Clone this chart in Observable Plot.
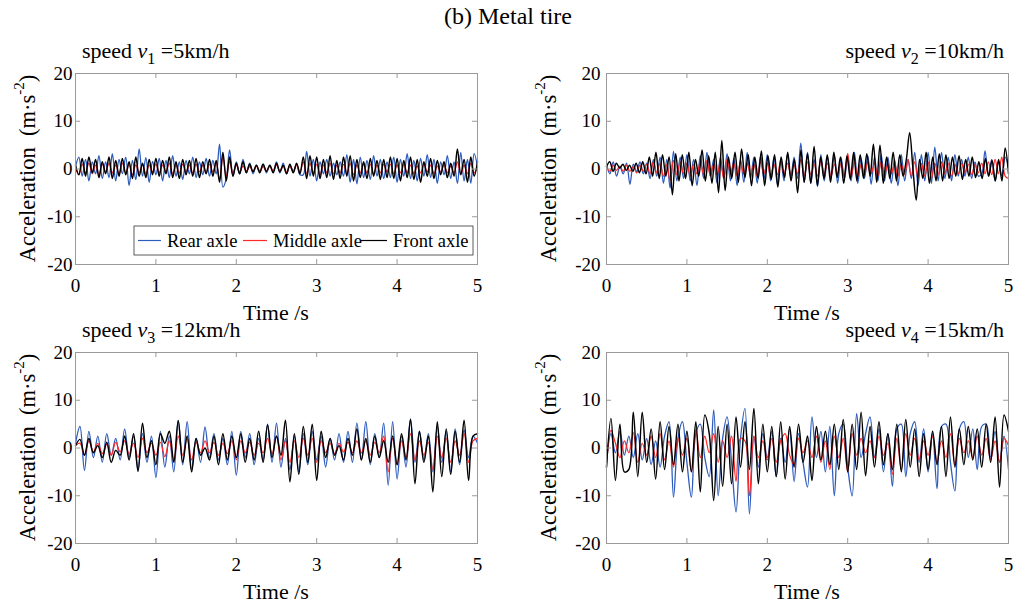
<!DOCTYPE html>
<html><head><meta charset="utf-8">
<script src="https://cdn.jsdelivr.net/npm/d3@7"></script>
<script src="https://cdn.jsdelivr.net/npm/@observablehq/plot@0.6"></script>
<style>
body{margin:0;background:#fff;}
#root{position:relative;width:1016px;height:608px;font-family:"Liberation Serif","Times New Roman",serif;color:#000;overflow:hidden;}
.abs{position:absolute;white-space:nowrap;}
.main-title{font-size:24px;left:0;width:1016px;text-align:center;top:3px;}
.sp{font-size:22px;line-height:24px;}
.sp sub{font-size:16px;vertical-align:-6px;line-height:0;}
</style></head><body><div id="root"></div>
<script>
// ---------- data ----------
const chartTitle = "(b) Metal tire";
const timeRange = [0, 5];
const xTicks = [0, 1, 2, 3, 4, 5];
const yTicks = [-20, -10, 0, 10, 20];
const seriesNames = ["Rear axle", "Middle axle", "Front axle"];
const seriesColors = ["#2d5cbc", "#ff2626", "#000000"];
const speedSubs = ["1", "2", "3", "4"];
const speedValues = ["5km/h", "10km/h", "12km/h", "15km/h"];

// speed v1 = 5 km/h
const v1Rear = [0.5,2.5,-1.5,2,-2.5,1.5,-1,2.8,-2,1.5,-1.8,3.2,-2.5,2,-1,2.5,-3.5,1.8,-2.2,4.2,-1.5,2.4,-2.8,1.6,
 -1.2,2.2,-2.5,1.8,-1.8,2.8,-1.5,1.5,-2.2,1.8,-1,2.5,-1.8,1.5,-1.2,2.2,-1.5,1.8,-1,5.2,-3.8,-2,4,-1.5,
 1.5,-1,2,-0.8,1.2,-1,0.8,-0.6,1,-0.8,0.8,-0.6,1.5,-0.8,1.2,-1,0.8,-0.5,1,-1.2,-1.2,3.7,-1.5,2,
 -2.5,1.5,-1,2,-1.5,1.2,-1.2,1.5,-1.5,3,-2.8,2,-3.1,2.5,-1.8,1.8,-2.2,2.8,-1.5,2,-2,1.5,-1.8,2.5,
 -2.8,2,-1.5,3.2,-2,1.8,-2.5,2.2,-1.5,3,-1.8,2,-3,1.5,-1.2,2.8,-2,1.5,-3,3.5,-2.5,2,-3,3.2,0.5];
const v1Middle = [0.2,-1.2,1,-0.8,1.2,-1,0.8,-1.2,1,-0.6,1.2,-0.8,0.8,-1,1.2,-0.8,1,-1.2,0.8,-0.8,1,-1,0.8,-0.6,
 1,-0.8,0.8,-0.6,1.2,-1,0.8,-0.8,1,-0.6,0.8,-0.8,1,-0.6,0.8,-0.8,1,-0.6,1.2,-2.2,2.5,-1.5,1.5,-0.8,
 0.8,-0.6,0.6,-0.4,0.5,-0.5,0.6,-0.4,0.5,-0.5,0.6,-0.4,0.8,-0.4,0.6,-0.6,0.5,-0.5,0.8,-0.6,1.5,-1,1.2,-0.8,
 1,-1.2,0.8,-0.8,1.2,-1,0.8,-0.8,1,-1,1.2,-1.2,0.8,-0.8,1,-0.8,1,-1,0.8,-0.8,1,-0.6,1,-1,
 0.8,-0.8,1,-0.8,0.8,-1,0.6,-0.8,1,-0.6,0.8,-1,0.6,-0.6,0.8,-0.8,0.6,-0.8,1.5,-1.2,0.8,-1,1.2,-0.8,0.6];
const v1Front = [0.8,-1.2,2.2,-1.5,2.5,-0.8,2,-1.8,1.5,-1,2.5,-2,1.8,-1.5,2.2,-1.2,1.5,-2,2.5,-1.5,1.2,-1.8,2,-1.2,
 2.2,-1.5,1.8,-1,2.5,-1.8,1.5,-2,2,-1.2,1.8,-1.5,2.2,-1.8,1.5,-1,2,-1.5,1.8,-2.8,3.5,-2.5,2.5,-1.5,
 1.2,-1,1.5,-0.8,1,-0.6,0.8,-0.8,1,-0.5,0.8,-0.8,1.2,-0.6,0.8,-1,1,-0.8,1.2,-1,2.5,-2,2.8,-1.5,
 2.5,-2,2,-1.8,2.8,-2.2,1.8,-2,2.5,-1.5,2.8,-2.5,2,-1.8,1.5,-2,2.2,-1.5,1.8,-2.2,2,-1.8,2.5,-2,
 2.2,-2.5,1.8,-1.8,2.5,-2.2,2,-2.8,1.5,-1.5,2.2,-2,1.8,-1.2,1.5,-1.8,1.2,-1.5,4.2,-1.2,2,-2.8,2.5,-1.5,1.5];

// speed v2 = 10 km/h
const v2Rear = [0.8,-1,1.5,-1.5,0.5,-1,1.2,-3.2,1,-0.5,1.5,-1,
 1.2,-2,2,-1.5,2.5,-3,2,-4,3.7,-2.5,2.5,-2,
 3,-2.5,2,-3.5,2.8,-2,3.5,-1.5,2,-3,2.5,-2,
 3.2,-2.5,2.2,-3.5,2,-2.8,3.5,-2,2.5,-3,2.8,-2.2,
 3,-2.5,2.5,-3.2,2,-2.5,3,-1.8,2.5,-2,5.4,-2.8,
 3.5,-3,2,-3.7,3,-2.5,2.5,-2,3,-3,2.5,-2,
 2,-2.5,3.5,-3,2.2,-2,2.8,-3.2,2.5,-2.5,3,-2.5,
 2.5,-3,2,-3.5,3,-2.5,2,-2,3.5,-3.5,3,-2.5,
 3.5,-3,4.6,-2.5,3.5,-2,2.5,-2.5,3,-1.5,2,-1.5,
 2.5,-2,1.5,-1.5,-1,3.8,-1.5,2,-2.5,1.5,-1.5,2.5,0.5];
const v2Middle = [0.5,-0.5,0.8,-0.3,0.6,-0.5,0.8,-0.5,0.5,-0.8,0.8,-0.5,
 1,-1,1.5,-0.8,1.2,-1.5,1,-2.5,1.8,-1.2,1.5,-1,
 1.2,-1.5,1,-1,1.5,-1.2,1.8,-1.5,1,-1.2,1.5,-2,
 2,-1,1.2,-1.5,1.5,-1,1.2,-1.2,1,-1.5,1.5,-1,
 1.2,-1.5,1,-1.2,1.5,-1,1.2,-1,0.8,-1,2,-1.5,
 1.5,-1.2,1,-1.5,1.8,-1,1.2,-1.5,1,-1,1.2,-1.2,
 3.3,-1.8,1.5,-1.5,1,-1.2,1.5,-1,1.2,-1.5,1.5,-1.2,
 1,-1,1.2,-1.5,1,-1.2,2,-1.5,1.5,-1.8,1.2,-1.5,
 1.5,-2,1.2,-1.2,1.5,-1,1.2,-1.5,1,-1,1.2,-0.8,
 1,-1.2,1,-0.8,1.2,-1,1.5,-1.2,2,-1,2.5,-1.5,-2];
const v2Front = [0.5,1.5,-0.5,1.2,0.2,1,-0.3,0.8,-0.5,1.2,-0.8,1.5,
 -1,2.5,-1.5,3.5,-2,3,-1.5,2.5,-5.4,3.2,-2.5,3,
 -2,3.5,-3.5,2,-1.5,4,-2.5,2.8,-3,3.5,-5,6,
 -4.5,2.5,-2,3.5,-2.8,4.2,-1.8,3,-3.5,2.5,-2,3.8,
 -3.5,2.8,-2.2,3,-3.8,2.5,-1.8,3.5,-2.5,2,-5,4,
 -2.8,3.2,-3,4.7,-3.4,2.5,-2,3,-2.8,3.5,-1.8,2.5,
 -3,2.8,-2.2,3.5,-2.5,3,-2,3.2,-1.5,5.2,-2.8,5,
 -3,2.5,-2,3.5,-2.5,3,-1.5,2,7.6,0,-6.5,2,-2,3.5,
 -3,2.5,-2.5,3.2,-2.5,3,-2,2.5,-1.5,2.8,-2.2,2,
 -1.5,2.5,-1.8,1.5,-2,2.2,-1.5,1.8,-2.5,2,-2.5,4.4,-1];

// speed v3 = 12 km/h
const v3Rear = [1,4.5,-4.7,3.5,-2,2.5,-3,3,-1.5,2,-2.5,4,-2,2.5,-4.5,3,-3,2.5,
 -6.2,3.5,-4,2.5,-5,5.8,-3.5,5.5,-4.5,2,-3,4.4,-2,3,-2.5,2,-3.5,3.5,
 -5.7,3.5,-2,3,-3.5,2,-2.5,5,-3,5.2,-4,2,-4.5,2.5,-5,3,-3.5,3.5,
 -2.5,2.5,-4,2,-2.5,3,-3,3.5,-3,5.2,-2.5,5.5,-3.5,3,-2,5.2,-7.8,5.5,
 -6.5,2.5,-4,6.1,-3,3.5,-2.5,3,-5,4.5,-3,3.5,-5,4,-3.5,3.8,-2,2.5,1];
const v3Middle = [0.5,1,-1.5,1.5,-0.8,1,-1.2,0.8,-1.5,1.2,-0.8,1.5,-1.2,1,-2,2,-1,1,
 -1.5,1.2,-1.8,1.5,-2.5,2.5,-1.5,2,-2.5,1.2,-1,1.5,-1,1.2,-1.5,1,-1.2,1.5,
 -2.5,1.5,-1,1.2,-1.5,1,-1,2,-1.2,2.5,-2.5,1.5,-3,1.5,-2,2,-1.5,2,
 -3,1.5,-1,1,-1.2,1,-0.8,1.2,-1,1.5,-1,1.5,-1.5,1.2,-1,2.5,-5,2,
 -3.5,1.5,-2,3,-2.5,1.5,-1.5,1.2,-4.5,2.5,-2,2,-3,1.5,-1.5,3,-3,1.5,2];
const v3Front = [0.5,1.8,-1.5,2,-1,0.5,-2,1.2,-3,-0.5,-1.5,2.5,-2.5,3,-4.9,5.2,-2,1.5,
 -3.5,3,1,3.5,-3,5.7,-3,2.5,-5,2,-1.5,0,-2.5,2.5,-3.5,3,-2.5,2.5,
 -2,3,-3,2,-2.5,3.5,-3,4.8,-2,2.5,-1.5,5.8,-7.1,3,-5.5,4.5,-3,5,-6.8,3.5,
 -2,2,-1.5,0.5,-2.5,2,-1.5,4,-2.5,2,-3,2.5,-2,1.5,-3,2.5,
 -3.5,3,-2.5,6,-7.5,3.5,-3,2.5,-9.2,5.5,-6,4,-5.5,3.5,-3,5.8,-6.8,2.5,3];

// speed v4 = 15 km/h
const v4Rear = [-3,3,-1,3.5,-1.5,2.5,-2,3,-2.5,2,-3.5,1.5,-4,2.5,5.5,-10.3,2,5.5,
 -3,-10.3,3,5,-2,-6,8,-10,2,6.5,-3,-13.4,2,8.3,-13.8,2.5,-4,3,
 -2,3.5,-6,2,-3,4,-7,3,-3,-8.2,6.5,-2,3.5,-5,4.5,-10,3,5,
 -4,-10,7.2,-2,3,6.5,-2,4,-5,3,-8,4,5,-6,3,5.5,-3,4,
 -5,3,-8.5,4.5,5,-3,-9,4,5.5,-2,4,-4.5,4.5,5,-2,3.5,-3,2.5,-4.5];
const v4Middle = [-4,3.7,1,-2,1.5,-1,3.2,-3,1,-1.5,2.5,-2,3,-2.5,1.5,-4,2,-1.5,
 2,-5,3.8,-2,2.5,-1,3,-3,1.5,-2,2.5,-7,2,1.5,-10,2.5,-2,1.5,
 -2.5,2,-3,1.5,3,-1.5,-3.5,2,-1,1.5,-2,2.5,-3,1.5,-4.5,2.5,-2,2,
 -5,3,-1.5,2,-1,1.5,-2,2.5,-1.5,1,-5.5,2,-4.5,3,-1.5,2,-2.5,1.5,
 -1.5,2.5,-3,1.5,-2,3,-3.5,2,-1,1.5,-2,2.5,-1.5,2,-2.5,1.5,-3,2,0.5];
const v4Front = [-4,6.2,-6.8,5,-5,-4.5,7.5,-6,7.5,-3,4,-6.5,5.5,-4.5,4.5,-3.5,5,-5,
 3.5,-5,5.5,-9.2,6.9,3,-11,4.5,-8,5,-7.5,6.5,-4,5.5,-4.5,8.3,-7.5,5,
 -5,4.5,-6,5.5,-6.5,4.5,-4,5,-3,2.5,-6.8,4.5,-2.5,3.5,-3.5,5,-4.5,6,
 -5,5,-4.5,7.5,-5.8,4.5,-4,5.5,-3.5,3,-4.5,5,-5,6,-4,4,-6,3,
 -4.5,3.5,-3.5,4.5,-6,6.5,-4,4,-3.5,4.5,-2.5,4,-4,5,-3,6.5,-8.2,6.9,3.5];

// ---------- layout ----------
const panels = [
  {sub: speedSubs[0], val: speedValues[0], series: [v1Rear, v1Middle, v1Front], left: 0, top: 62, labelSide: "left", legend: true},
  {sub: speedSubs[1], val: speedValues[1], series: [v2Rear, v2Middle, v2Front], left: 530, top: 62, labelSide: "right", legend: false},
  {sub: speedSubs[2], val: speedValues[2], series: [v3Rear, v3Middle, v3Front], left: 0, top: 341, labelSide: "left", legend: false},
  {sub: speedSubs[3], val: speedValues[3], series: [v4Rear, v4Middle, v4Front], left: 530, top: 341, labelSide: "right", legend: false}
];
const strokeWidths = [1.3, 1.2, 1.45];

const root = document.getElementById("root");
const FONT = '"Liberation Serif","Times New Roman",serif';
const W = 500, H = 262, ML = 75, MR = 23, MT = 11, MB = 60;
const FW = W - ML - MR, FH = H - MT - MB;

const t = document.createElement("div");
t.className = "abs main-title";
t.textContent = chartTitle;
root.appendChild(t);

panels.forEach((p, pi) => {
  const ml = pi % 2 === 1 ? ML + 1 : ML;
  const mr = W - ml - FW;
  const lineMarks = p.series.map((vals, si) => {
    const n = vals.length;
    const d = vals.map((v, i) => ({t: timeRange[0] + (timeRange[1] - timeRange[0]) * i / (n - 1), a: v}));
    return Plot.lineY(d, {x: "t", y: "a", stroke: seriesColors[si], strokeWidth: strokeWidths[si], curve: "catmull-rom"});
  });
  const chart = Plot.plot({
    width: W, height: H, marginLeft: ml, marginRight: mr, marginTop: MT, marginBottom: MB,
    style: {fontFamily: FONT, fontSize: "19px", color: "#000", background: "transparent", overflow: "visible"},
    x: {domain: timeRange},
    y: {domain: [yTicks[0], yTicks[yTicks.length - 1]]},
    marks: [
      ...lineMarks,
      Plot.frame({stroke: "#9a9a9a", strokeWidth: 1}),
      Plot.tickX(xTicks, {x: d => d, stroke: "#9a9a9a", insetTop: FH - 5}),
      Plot.tickX(xTicks, {x: d => d, stroke: "#9a9a9a", insetBottom: FH - 5}),
      Plot.tickY(yTicks, {y: d => d, stroke: "#9a9a9a", insetRight: FW - 5}),
      Plot.tickY(yTicks, {y: d => d, stroke: "#9a9a9a", insetLeft: FW - 5}),
      Plot.axisX({ticks: xTicks, tickSize: 0, tickPadding: 14, label: null, tickFormat: d => String(d)}),
      Plot.axisY({ticks: yTicks, tickSize: 0, tickPadding: pi % 2 === 1 ? 6 : 3, label: null, tickFormat: d => String(d)})
    ]
  });
  chart.style.position = "absolute";
  chart.style.left = p.left + "px";
  chart.style.top = p.top + "px";
  root.appendChild(chart);

  const svg = d3.select(chart);
  // y axis label
  const yl = svg.append("text")
    .attr("transform", `translate(${pi % 2 === 1 ? 21 : 30},${MT + FH / 2}) rotate(-90)`)
    .attr("text-anchor", "middle").attr("dominant-baseline", "middle")
    .attr("font-family", FONT).attr("font-size", 22.5).attr("fill", "#000");
  yl.append("tspan").text("Acceleration\u00a0 (m\u00b7s");
  yl.append("tspan").attr("font-size", 15).attr("dy", -9).text("-2");
  yl.append("tspan").attr("dy", 9).text(")");
  // x axis label
  svg.append("text")
    .attr("x", ml + FW / 2).attr("y", MT + FH + 56)
    .attr("text-anchor", "middle")
    .attr("font-family", FONT).attr("font-size", 22).attr("fill", "#000")
    .text("Time /s");

  if (p.legend) {
    const lx = 59, ly = 153, lw = 339, lh = 29;
    const g = svg.append("g");
    g.append("rect").attr("x", ml + lx).attr("y", MT + ly).attr("width", lw).attr("height", lh)
      .attr("fill", "#fff").attr("stroke", "#333").attr("stroke-width", 0.8);
    const itemX = [4, 109, 227];
    const lineLen = [23, 24, 26];
    seriesNames.forEach((name, k) => {
      g.append("line").attr("x1", ml + lx + itemX[k]).attr("x2", ml + lx + itemX[k] + lineLen[k])
        .attr("y1", MT + ly + lh / 2).attr("y2", MT + ly + lh / 2)
        .attr("stroke", seriesColors[k]).attr("stroke-width", 1.2);
      g.append("text").attr("x", ml + lx + itemX[k] + lineLen[k] + 6).attr("y", MT + ly + lh / 2)
        .attr("text-anchor", "start")
        .attr("dominant-baseline", "central")
        .attr("font-family", FONT).attr("font-size", 18.5).attr("fill", "#000")
        .text(name);
    });
  }

  // speed label
  const sp = document.createElement("div");
  sp.className = "abs sp";
  sp.innerHTML = `speed <i>v</i><sub>${p.sub}</sub> =${p.val}`;
  sp.style.top = (p.top - 23) + "px";
  if (p.labelSide === "left") sp.style.left = "82px";
  else sp.style.right = (1016 - 1004) + "px";
  root.appendChild(sp);
});
</script>
</body></html>
